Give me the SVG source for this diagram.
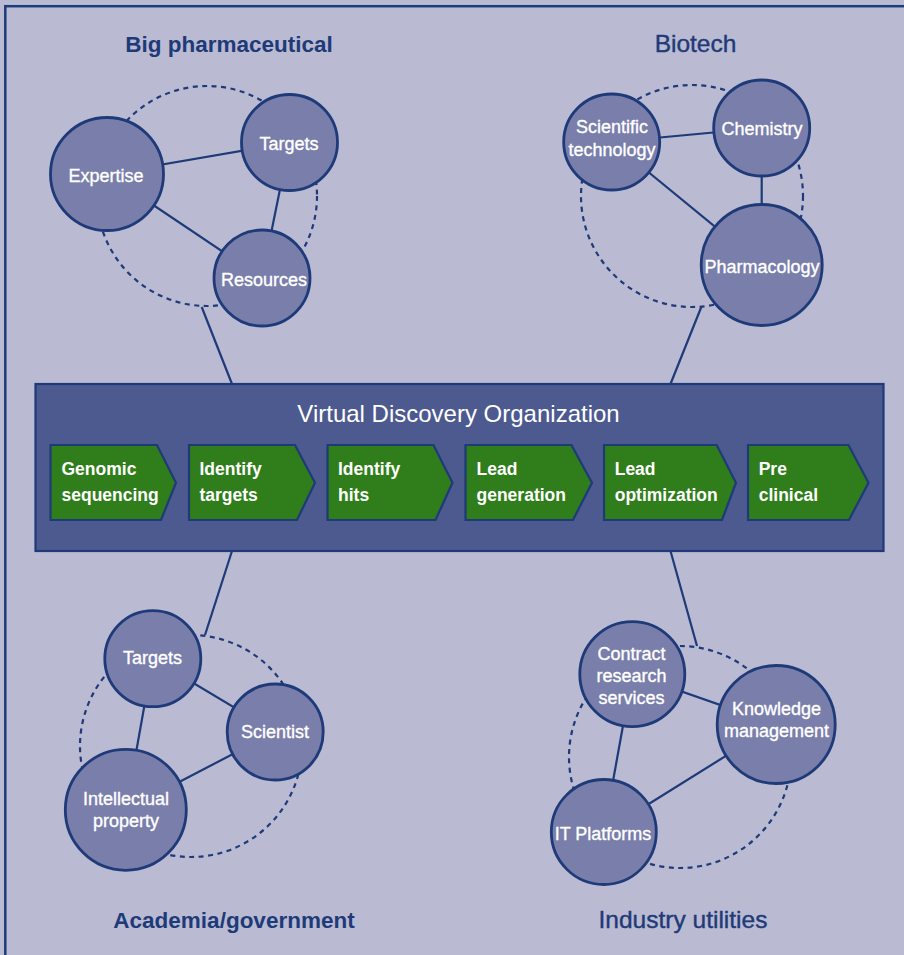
<svg xmlns="http://www.w3.org/2000/svg" width="904" height="955" viewBox="0 0 904 955">
<style>
.bg{fill:#babbd2}
.frame{fill:none;stroke:#1e3c7c;stroke-width:2.5}
.ring{fill:none;stroke:#1e3a78;stroke-width:2.2;stroke-dasharray:5 4.5}
.link{stroke:#1e3a78;stroke-width:2.2;fill:none}
.node circle{fill:#797eaa;stroke:#1e3a78;stroke-width:2.8}
.nt{font-family:"Liberation Sans",Arial,sans-serif;font-size:18px;fill:#ffffff;stroke:#ffffff;stroke-width:0.35;text-anchor:middle}
.hb{font-family:"Liberation Sans",Arial,sans-serif;font-size:22.5px;font-weight:bold;fill:#1f3a78;text-anchor:middle}
.hr{font-family:"Liberation Sans",Arial,sans-serif;font-size:24.5px;fill:#1f3a78;stroke:#1f3a78;stroke-width:0.4;text-anchor:middle}
.vdo{fill:#4d5a8f;stroke:#1e3a78;stroke-width:2.2}
.vt{font-family:"Liberation Sans",Arial,sans-serif;font-size:24px;fill:#ffffff;text-anchor:middle}
.step polygon{fill:#2f7d1b;stroke:#1e3a78;stroke-width:2.2}
.st{font-family:"Liberation Sans",Arial,sans-serif;font-size:17.5px;font-weight:bold;fill:#ffffff}
</style>
<rect class="bg" x="0" y="0" width="904" height="955"/>
<rect class="frame" x="5.3" y="6.2" width="920" height="970"/>

<g id="rings">
<circle class="ring" cx="207" cy="196" r="110"/>
<circle class="ring" cx="692" cy="196" r="111"/>
<circle class="ring" cx="191" cy="746" r="111"/>
<circle class="ring" cx="680" cy="757" r="111"/>
</g>

<g id="connectors">
<line class="link" x1="107" y1="174" x2="289.5" y2="142.5"/>
<line class="link" x1="107" y1="174" x2="262" y2="278"/>
<line class="link" x1="289.5" y1="142.5" x2="262" y2="278"/>
<line class="link" x1="201.7" y1="307" x2="232" y2="384"/>

<line class="link" x1="611.7" y1="142" x2="761.7" y2="128"/>
<line class="link" x1="611.7" y1="142" x2="761.7" y2="265"/>
<line class="link" x1="761.7" y1="128" x2="761.7" y2="265"/>
<line class="link" x1="701.3" y1="307" x2="670.5" y2="384"/>

<line class="link" x1="152.8" y1="658.7" x2="275.2" y2="732"/>
<line class="link" x1="152.8" y1="658.7" x2="125.8" y2="809.8"/>
<line class="link" x1="275.2" y1="732" x2="125.8" y2="809.8"/>
<line class="link" x1="232" y1="551" x2="205" y2="635"/>

<line class="link" x1="632.3" y1="674.2" x2="776.2" y2="724.5"/>
<line class="link" x1="632.3" y1="674.2" x2="603.8" y2="832"/>
<line class="link" x1="776.2" y1="724.5" x2="603.8" y2="832"/>
<line class="link" x1="670.5" y1="551" x2="697" y2="646"/>
</g>

<g id="heading-big-pharma"><text class="hb" x="229" y="52">Big pharmaceutical</text></g>
<g id="heading-biotech"><text class="hr" x="695.5" y="52">Biotech</text></g>
<g id="heading-academia"><text class="hb" x="234" y="928">Academia/government</text></g>
<g id="heading-industry"><text class="hr" x="683" y="928">Industry utilities</text></g>

<g id="bp-expertise" class="node"><circle cx="107" cy="174" r="56.5"/><text class="nt" x="106" y="181.5">Expertise</text></g>
<g id="bp-targets" class="node"><circle cx="289.5" cy="142.5" r="48"/><text class="nt" x="289" y="150">Targets</text></g>
<g id="bp-resources" class="node"><circle cx="262" cy="278" r="48"/><text class="nt" x="264" y="285.5">Resources</text></g>

<g id="bt-scitech" class="node"><circle cx="611.7" cy="142" r="48"/><text class="nt" x="612" y="133.3">Scientific</text><text class="nt" x="612" y="155.5">technology</text></g>
<g id="bt-chemistry" class="node"><circle cx="761.7" cy="128" r="48"/><text class="nt" x="762" y="135">Chemistry</text></g>
<g id="bt-pharmacology" class="node"><circle cx="761.7" cy="265" r="60.5"/><text class="nt" x="762" y="273">Pharmacology</text></g>

<g id="ag-targets" class="node"><circle cx="152.8" cy="658.7" r="48"/><text class="nt" x="152.5" y="663.5">Targets</text></g>
<g id="ag-scientist" class="node"><circle cx="275.2" cy="732" r="48"/><text class="nt" x="275" y="737.7">Scientist</text></g>
<g id="ag-ip" class="node"><circle cx="125.8" cy="809.8" r="60.5"/><text class="nt" x="126" y="805">Intellectual</text><text class="nt" x="126" y="827">property</text></g>

<g id="iu-contract" class="node"><circle cx="632.3" cy="674.2" r="52.5"/><text class="nt" x="631.5" y="659.5">Contract</text><text class="nt" x="631.5" y="681.8">research</text><text class="nt" x="631.5" y="704">services</text></g>
<g id="iu-knowledge" class="node"><circle cx="776.2" cy="724.5" r="59"/><text class="nt" x="776.5" y="715">Knowledge</text><text class="nt" x="776.5" y="736.5">management</text></g>
<g id="iu-it" class="node"><circle cx="603.8" cy="832" r="52.5"/><text class="nt" x="603" y="839.5">IT Platforms</text></g>

<g id="vdo">
<rect class="vdo" x="35.5" y="384" width="848" height="167"/>
<text class="vt" x="458.5" y="422">Virtual Discovery Organization</text>
</g>

<g id="step-genomic" class="step"><polygon points="50.5,445 157,445 176,482.7 161,520 50.5,520"/><text class="st" x="61.5" y="474.5">Genomic</text><text class="st" x="61.5" y="501">sequencing</text></g>
<g id="step-targets" class="step"><polygon points="189,445 295,445 315,482.7 297,520 189,520"/><text class="st" x="199.5" y="474.5">Identify</text><text class="st" x="199.5" y="501">targets</text></g>
<g id="step-hits" class="step"><polygon points="327.5,445 433.5,445 452.5,482.7 435.5,520 327.5,520"/><text class="st" x="338" y="474.5">Identify</text><text class="st" x="338" y="501">hits</text></g>
<g id="step-leadgen" class="step"><polygon points="465.5,445 571.5,445 592,482.7 573,520 465.5,520"/><text class="st" x="476.5" y="474.5">Lead</text><text class="st" x="476.5" y="501">generation</text></g>
<g id="step-leadopt" class="step"><polygon points="604,445 716.7,445 736,482.7 722,520 604,520"/><text class="st" x="614.7" y="474.5">Lead</text><text class="st" x="614.7" y="501">optimization</text></g>
<g id="step-preclinical" class="step"><polygon points="748,445 848.5,445 868.5,482.7 849,520 748,520"/><text class="st" x="758.7" y="474.5">Pre</text><text class="st" x="758.7" y="501">clinical</text></g>
</svg>
